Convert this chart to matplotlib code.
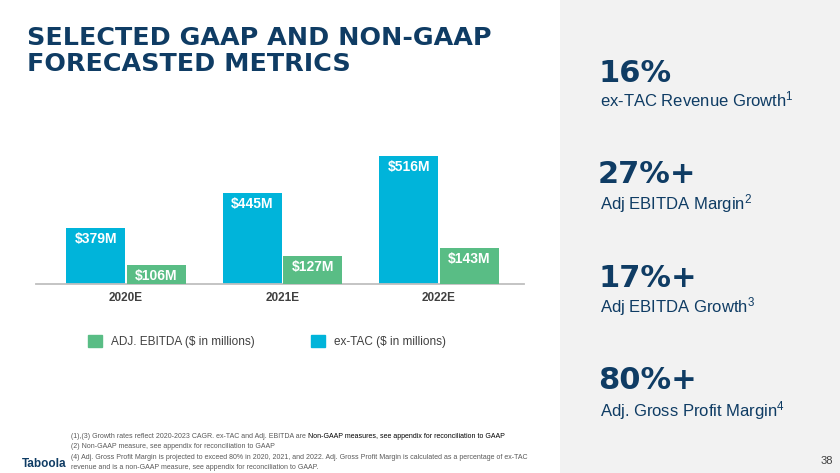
import matplotlib.pyplot as plt
from matplotlib.patches import Patch, Rectangle

# forecast values ($ in millions)
years = ['2020E', '2021E', '2022E']
ex_tac = [379, 445, 516]
adj_ebitda = [106, 127, 143]

# right hand side KPIs
kpi_values = ['16%', '27%+', '17%+', '80%+']
kpi_labels = ['ex-TAC Revenue Growth$^{1}$', 'Adj EBITDA Margin$^{2}$',
              'Adj EBITDA Growth$^{3}$', 'Adj. Gross Profit Margin$^{4}$']

footnotes = [
    '(2) Non-GAAP measure, see appendix for reconciliation to GAAP',
    '(4) Adj. Gross Profit Margin is projected to exceed 80% in 2020, 2021, and 2022. '
    'Adj. Gross Profit Margin is calculated as a percentage of ex-TAC',
    'revenue and is a non-GAAP measure, see appendix for reconciliation to GAAP.',
]

NAVY = '#0F3C64'
BLUE = '#00B4DA'
GREEN = '#59BD85'

plt.rcParams['font.family'] = ['Liberation Sans', 'DejaVu Sans']
plt.rcParams['mathtext.default'] = 'regular'

W, H = 840, 473
fig = plt.figure(figsize=(W / 100, H / 100), dpi=100)
fig.patch.set_facecolor('white')


def fx(px):
    return px / W


def fy(py):
    return 1 - py / H


# grey side panel
fig.patches.append(Rectangle((fx(560), 0), 1 - fx(560), 1, transform=fig.transFigure,
                             facecolor='#F2F2F2', edgecolor='none', zorder=0))

# title
fig.text(fx(27), fy(45), 'SELECTED GAAP AND NON-GAAP', family='DejaVu Sans',
         weight='bold', size=18.3, color=NAVY, va='baseline')
fig.text(fx(27), fy(71), 'FORECASTED METRICS', family='DejaVu Sans',
         weight='bold', size=18.3, color=NAVY, va='baseline')

# bar chart, each series on its own hidden scale
ax = fig.add_axes([fx(36), fy(284), fx(524) - fx(36), (284 - 140) / H])
ax2 = ax.twinx()
x = list(range(len(years)))
w = 0.377
off = 0.192
ax.bar([i - off for i in x], ex_tac, width=w, color=BLUE, zorder=2)
ax2.bar([i + off for i in x], adj_ebitda, width=w, color=GREEN, zorder=2)
ax.set_ylim(272, 546)
ax2.set_ylim(65, 379)
ax.set_xlim(-0.575, 2.543)

for a, vals, sign in [(ax, ex_tac, -1), (ax2, adj_ebitda, 1)]:
    for i, v in zip(x, vals):
        a.annotate(f'${v}M', xy=(i + sign * off, v), xytext=(0, -11),
                   textcoords='offset pixels', ha='center', va='center',
                   color='white', weight='bold', size=10)

for a in (ax, ax2):
    for s in a.spines.values():
        s.set_visible(False)
    a.set_yticks([])
ax.spines['bottom'].set_visible(True)
ax.spines['bottom'].set_color('#BFBFBF')
ax.spines['bottom'].set_linewidth(1.3)
ax.set_xticks(x)
ax.set_xticklabels(years, weight='bold', size=8.5, color='#404040')
ax.tick_params(axis='x', length=0, pad=6)
ax.patch.set_alpha(0)

handles = [Patch(color=GREEN, label='ADJ. EBITDA ($ in millions)'),
           Patch(color=BLUE, label='ex-TAC ($ in millions)')]
fig.legend(handles=handles, loc='upper left', bbox_to_anchor=(fx(88), fy(335)),
           ncol=2, frameon=False, fontsize=8.5, handlelength=1.19, handleheight=1.19,
           handletextpad=0.76, columnspacing=4.8, borderpad=0, borderaxespad=0,
           labelcolor='#404040')

# KPIs on the right
num_base = [82, 183, 287, 389]
lab_base = [106, 209, 312, 416]
for val, lab, nb, lb in zip(kpi_values, kpi_labels, num_base, lab_base):
    fig.text(fx(598), fy(nb), val, family='DejaVu Sans', weight='bold', size=22,
             color=NAVY, va='baseline')
    fig.text(fx(600), fy(lb), lab, size=12, color=NAVY, va='baseline')

# footnotes, first line partly in black
t1 = fig.text(fx(71), fy(436), '(1),(3) Growth rates reflect 2020-2023 CAGR. ex-TAC and '
              'Adj. EBITDA are ', size=5, color='#595959', va='center')
fig.canvas.draw()
bb = t1.get_window_extent()
fig.text(bb.x1 / W, fy(436), 'Non-GAAP measures, see appendix for reconciliation to GAAP',
         size=5, color='black', va='center')
for txt, yy in zip(footnotes, [446, 457, 467]):
    fig.text(fx(71), fy(yy), txt, size=5, color='#595959', va='center')

fig.text(fx(22), fy(467), 'Taboola', weight='bold', size=8.5, color=NAVY, va='baseline')
fig.text(fx(833), fy(461), '38', size=8, color='#404040', ha='right', va='center')

fig.savefig('out.png', dpi=100, facecolor=fig.get_facecolor())
